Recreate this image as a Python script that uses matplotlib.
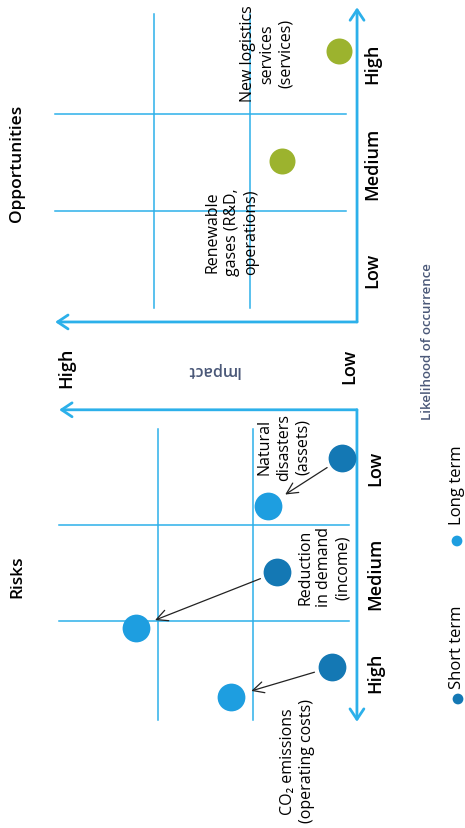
import matplotlib.pyplot as plt

plt.rcParams['font.family'] = ['Open Sans', 'DejaVu Sans']

W, H = 465, 829
LINE = '#2cb0ea'
SHORT = '#1478b4'
LONG = '#1e9ee0'
GREEN = '#9cb32e'
SLATE = '#4a5878'

levels = ['Low', 'Medium', 'High']

# risks: likelihood / impact on a 0..3 scale, short term -> long term
risk_names = ['Natural\ndisasters\n(assets)', 'Reduction\nin demand\n(income)',
              'CO₂ emissions\n(operating costs)']
risk_short_likelihood = [0.30, 1.49, 2.48]
risk_short_impact = [0.07, 0.75, 0.18]
risk_long_likelihood = [0.80, 2.07, 2.79]
risk_long_impact = [0.85, 2.23, 1.23]

opp_names = ['New logistics\nservices\n(services)', 'Renewable\ngases (R&D,\noperations)']
opp_likelihood = [2.65, 1.52]
opp_impact = [0.07, 0.67]

fig = plt.figure(figsize=(W / 100, H / 100), dpi=100)


def panel(left, top, right, bottom, xlim, ylim):
    ax = fig.add_axes([left / W, 1 - bottom / H, (right - left) / W, (bottom - top) / H])
    ax.set_xlim(*xlim)
    ax.set_ylim(*ylim)
    ax.axis('off')
    return ax


def frame(ax, x0, y0, xtip, ytip):
    # light blue grid in thirds plus the two axis arrows
    for v in [1, 2]:
        ax.plot([v, v], [0, 3.03], color=LINE, lw=1.1)
        ax.plot([0, 3.03], [v, v], color=LINE, lw=1.1)
    style = '->,head_length=0.75,head_width=0.5'
    for tip in [(x0, ytip), (xtip, y0)]:
        ax.annotate('', xy=tip, xytext=(x0, y0),
                    arrowprops=dict(arrowstyle=style, color=LINE, lw=2,
                                    shrinkA=0, shrinkB=0))
    for lv, pos in zip(levels, [0.4, 1.5, 2.53]):
        ax.text(-0.27, pos, lv, rotation=90, ha='center', va='center',
                fontsize=13, fontweight='semibold')


# risks panel (bottom half), impact grows to the left, likelihood downwards
ax_r = panel(40, 400, 360, 730, (3.23, -0.115), (3.125, -0.3125))
frame(ax_r, -0.083, -0.2, 3.03, 3.05)
ax_r.scatter(risk_short_impact, risk_short_likelihood, s=400, color=SHORT, lw=0, zorder=3)
ax_r.scatter(risk_long_impact, risk_long_likelihood, s=400, color=LONG, lw=0, zorder=3)
for i in range(len(risk_names)):
    ax_r.annotate('', xy=(risk_long_impact[i], risk_long_likelihood[i]),
                  xytext=(risk_short_impact[i], risk_short_likelihood[i]),
                  arrowprops=dict(arrowstyle='->,head_length=0.8,head_width=0.4',
                                  color='#222222', lw=0.9, shrinkA=13, shrinkB=15),
                  zorder=4)
for name, pos in zip(risk_names, [(0.68, 0.18), (0.26, 1.43), (0.54, 3.45)]):
    ax_r.text(pos[0], pos[1], name, rotation=90, ha='center', va='center',
              multialignment='center', fontsize=11.5, linespacing=1.25)

# opportunities panel (top half), likelihood upwards
ax_o = panel(40, 0, 360, 330, (3.1875, -0.1458), (-0.2165, 3.186))
frame(ax_o, -0.115, -0.144, 3.03, 3.1)
ax_o.scatter(opp_impact, opp_likelihood, s=350, color=GREEN, lw=0, zorder=3)
for name, pos in zip(opp_names, [(0.82, 2.63), (1.19, 0.79)]):
    ax_o.text(pos[0], pos[1], name, rotation=90, ha='center', va='center',
              multialignment='center', fontsize=11.5, linespacing=1.25)

# titles, shared impact labels and legend
ax_t = fig.add_axes([0, 0, 1, 1])
ax_t.set_xlim(0, W)
ax_t.set_ylim(H, 0)
ax_t.axis('off')
ax_t.text(17, 577, 'Risks', rotation=90, ha='center', va='center',
          fontsize=12.5, fontweight='semibold')
ax_t.text(17, 163, 'Opportunities', rotation=90, ha='center', va='center',
          fontsize=12.5, fontweight='semibold')
ax_t.text(66, 368, 'High', rotation=90, ha='center', va='center',
          fontsize=13, fontweight='semibold')
ax_t.text(349, 366, 'Low', rotation=90, ha='center', va='center',
          fontsize=13, fontweight='semibold')
ax_t.text(213, 370, 'Impact', rotation=180, ha='center', va='center',
          fontsize=11.5, fontweight='semibold', color=SLATE)
ax_t.text(427, 342, 'Likelihood of occurrence', rotation=90, ha='center', va='center',
          fontsize=9.5, fontweight='semibold', color=SLATE)
ax_t.scatter([458, 457], [700, 542], s=60, color=[SHORT, LONG], lw=0)
ax_t.text(457, 647, 'Short term', rotation=90, ha='center', va='center', fontsize=12)
ax_t.text(457, 485, 'Long term', rotation=90, ha='center', va='center', fontsize=12)

fig.savefig('out.png', dpi=100, facecolor='white')
